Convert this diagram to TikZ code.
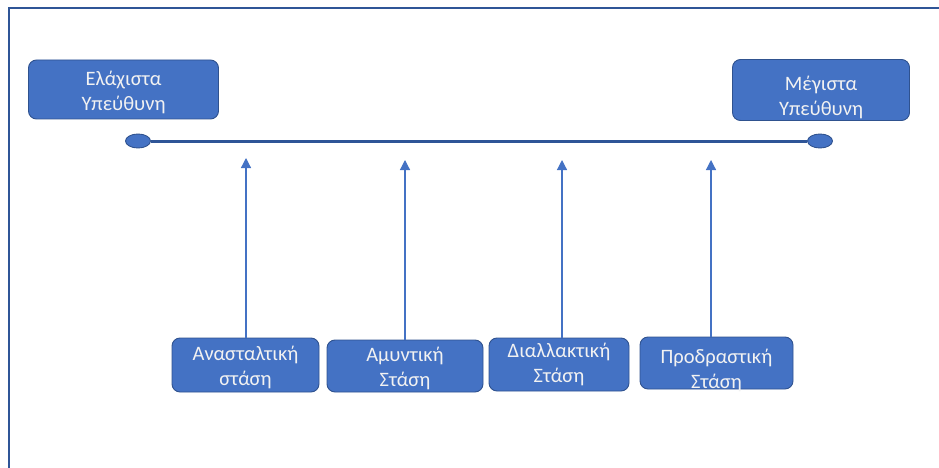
\documentclass[tikz,border=0pt]{standalone}
\usepackage{fontspec}
\setmainfont{Carlito}
\usetikzlibrary{arrows.meta,shapes.geometric}
\definecolor{boxfill}{HTML}{4472C4}
\definecolor{boxedge}{HTML}{2F528F}
\definecolor{axis}{HTML}{2F5597}
\definecolor{pointer}{HTML}{4472C4}
\definecolor{labeltext}{HTML}{F2F2F2}
\tikzset{
  labelfont/.style={text=labeltext, align=center, font=\fontsize{20.5}{25}\selectfont},
  level/.style={draw=boxedge, line width=0.9pt, fill=boxfill, rounded corners=8pt,
    labelfont, inner sep=0pt},
  endpoint/.style={draw=boxedge, line width=0.9pt, fill=boxfill, ellipse, minimum width=25pt, minimum height=14pt},
  pointer/.style={draw=pointer, line width=1.2pt, -{Triangle[length=10pt,width=10pt]}},
  frameline/.style={draw=axis, line width=1.8pt},
}
\begin{document}
\begin{tikzpicture}[x=1pt,y=-1pt]
  \useasboundingbox (0,0) rectangle (939,468);
  % frame (top and left edges)
  \draw[frameline] (9,468) -- (9,8) -- (939,8);

  % end labels
  \node[level, minimum width=190pt, minimum height=59pt] (least) at (123.5,89.5) {};
  \node[labelfont] (leastlbl) at (123.5,92) {Ελάχιστα\\Υπεύθυνη};
  \node[level, minimum width=177pt, minimum height=61pt] (most) at (821,90) {};
  \node[labelfont] (mostlbl) at (821,97) {Μέγιστα\\Υπεύθυνη};

  % axis with end caps
  \node[endpoint] (lo) at (138,141) {};
  \node[endpoint] (hi) at (820,141) {};
  \draw[axis, line width=3pt] (lo.east) -- (hi.west);

  % stances
  \node[level, minimum width=147pt, minimum height=54pt] (s1) at (245.5,365) {};
  \node[labelfont] (s1lbl) at (245.5,367) {Ανασταλτική\\στάση};
  \node[level, minimum width=156pt, minimum height=52pt] (s2) at (405,366) {};
  \node[labelfont] (s2lbl) at (405,368) {Αμυντική\\Στάση};
  \node[level, minimum width=140pt, minimum height=53pt] (s3) at (559,364.5) {};
  \node[labelfont] (s3lbl) at (559,364) {Διαλλακτική\\Στάση};
  \node[level, minimum width=153pt, minimum height=52pt] (s4) at (716.5,363) {};
  \node[labelfont] (s4lbl) at (716.5,370) {Προδραστική\\Στάση};

  % pointers towards the axis
  \coordinate (t1) at (246,158);
  \coordinate (t2) at (405,160);
  \coordinate (t3) at (562,160);
  \coordinate (t4) at (711,160);
  \draw[pointer] (s1.north -| t1) -- (t1);
  \draw[pointer] (s2.north -| t2) -- (t2);
  \draw[pointer] (s3.north -| t3) -- (t3);
  \draw[pointer] (s4.north -| t4) -- (t4);
\end{tikzpicture}
\end{document}
